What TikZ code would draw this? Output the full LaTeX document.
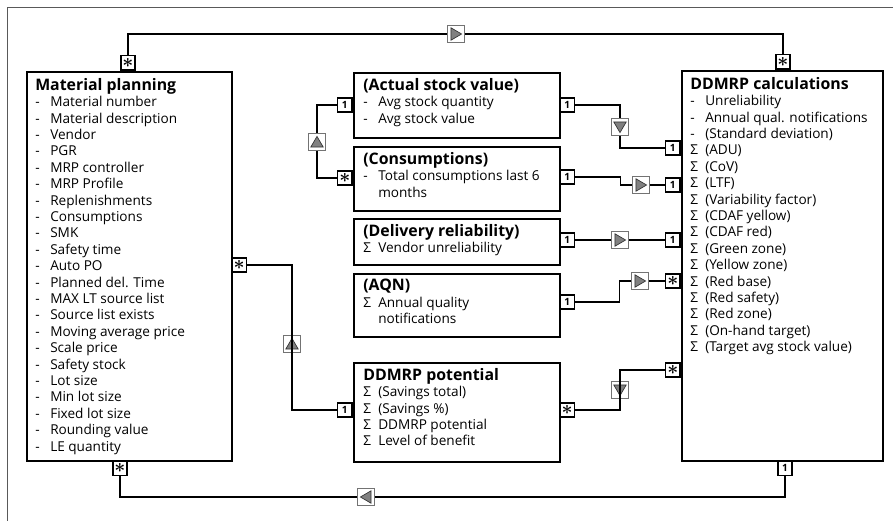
\documentclass[tikz,border=0pt]{standalone}
\usepackage{fontspec}
\setmainfont{Open Sans}
\usetikzlibrary{positioning}

% marker column in the attribute lists
\newcommand{\bl}[1]{\makebox[11.25pt][l]{#1}}
\newcommand{\many}{{\fontsize{15}{15}\selectfont\boldmath$\ast$}}
\newcommand{\ttl}[1]{{\bfseries\fontsize{11.9}{12.3}\selectfont #1}}

\tikzset{
  entity/.style={draw, line width=1.8pt, inner sep=0pt, anchor=north west},
  body/.style={anchor=north west, inner sep=0pt, align=left,
    font=\fontsize{10.2}{12.3}\selectfont},
  mult/.style={draw, line width=1.3pt, fill=white, minimum size=11pt,
    inner sep=0pt, font=\fontsize{7.5}{7.5}\selectfont\bfseries},
  tri/.style={draw=black!55, line width=0.8pt, fill=white, minimum size=12.5pt,
    inner sep=0pt, path picture={
      \filldraw[fill=black!50, draw=black!80, line width=0.5pt,
        shift={(path picture bounding box.center)}]
        (#1:4.2pt) -- (#1+129:6pt) -- (#1-129:6pt) -- cycle;}},
  link/.style={line width=1.2pt},
}

\begin{document}
\begin{tikzpicture}[x=0.75pt, y=-0.75pt]
  \useasboundingbox (0,0) rectangle (893,521);
  \draw[black!65, line width=0.7pt] (7,521) -- (7,7) -- (893,7);

  % Define nodes
  \node[entity, minimum width=153.75pt, minimum height=291.75pt] (mp) at (26,71) {};
  \node[entity, minimum width=150.75pt, minimum height=292.5pt] (calc) at (681,70) {};
  %--
  \node[entity, minimum width=154.5pt, minimum height=48.75pt] (stock) at (353,72) {};
  \node[entity, minimum width=154.5pt, minimum height=48pt] (cons) at (353,146) {};
  \node[entity, minimum width=154.5pt, minimum height=34.5pt] (deliv) at (353,218) {};
  \node[entity, minimum width=154.5pt, minimum height=47.25pt] (aqn) at (353,273) {};
  \node[entity, minimum width=154.5pt, minimum height=74.25pt] (pot) at (353,362) {};

  % Texts
  \node[body] (mpText) at ([shift={(9,7)}]mp.north west) {%
    \ttl{Material planning}\\
    \bl{-}Material number\\
    \bl{-}Material description\\
    \bl{-}Vendor\\
    \bl{-}PGR\\
    \bl{-}MRP controller\\
    \bl{-}MRP Profile\\
    \bl{-}Replenishments\\
    \bl{-}Consumptions\\
    \bl{-}SMK\\
    \bl{-}Safety time\\
    \bl{-}Auto PO\\
    \bl{-}Planned del. Time\\
    \bl{-}MAX LT source list\\
    \bl{-}Source list exists\\
    \bl{-}Moving average price\\
    \bl{-}Scale price\\
    \bl{-}Safety stock\\
    \bl{-}Lot size\\
    \bl{-}Min lot size\\
    \bl{-}Fixed lot size\\
    \bl{-}Rounding value\\
    \bl{-}LE quantity};
  \node[body] (calcText) at ([shift={(9,7)}]calc.north west) {%
    \ttl{DDMRP calculations}\\
    \bl{-}Unreliability\\
    \bl{-}Annual qual. notifications\\
    \bl{-}(Standard deviation)\\
    \bl{Σ}(ADU)\\
    \bl{Σ}(CoV)\\
    \bl{Σ}(LTF)\\
    \bl{Σ}(Variability factor)\\
    \bl{Σ}(CDAF yellow)\\
    \bl{Σ}(CDAF red)\\
    \bl{Σ}(Green zone)\\
    \bl{Σ}(Yellow zone)\\
    \bl{Σ}(Red base)\\
    \bl{Σ}(Red safety)\\
    \bl{Σ}(Red zone)\\
    \bl{Σ}(On-hand target)\\
    \bl{Σ}(Target avg stock value)};
  \node[body] (stockText) at ([shift={(10,6)}]stock.north west) {%
    \ttl{(Actual stock value)}\\
    \bl{-}Avg stock quantity\\
    \bl{-}Avg stock value};
  \node[body] (consText) at ([shift={(10,6)}]cons.north west) {%
    \ttl{(Consumptions)}\\
    \bl{-}Total consumptions last 6\\
    \bl{}months};
  \node[body] (delivText) at ([shift={(10,6)}]deliv.north west) {%
    \ttl{(Delivery reliability)}\\
    \bl{Σ}Vendor unreliability};
  \node[body] (aqnText) at ([shift={(10,6)}]aqn.north west) {%
    \ttl{(AQN)}\\
    \bl{Σ}Annual quality\\
    \bl{}notifications};
  \node[body] (potText) at ([shift={(10,6)}]pot.north west) {%
    \ttl{DDMRP potential}\\
    \bl{Σ}(Savings total)\\
    \bl{Σ}(Savings \%)\\
    \bl{Σ}DDMRP potential\\
    \bl{Σ}Level of benefit};

  % Multiplicities
  \node[mult, anchor=south] (mpTop) at (128,71) {\many};
  \node[mult, anchor=north] (mpBot) at (120,460) {\many};
  \node[mult, anchor=west] (mpRight) at (231,265) {\many};
  \node[mult, anchor=south] (calcTop) at (783,70) {\many};
  \node[mult, anchor=north] (calcBot) at (785,460) {1};
  \node[mult, anchor=east] (calcA) at (681,148) {1};
  \node[mult, anchor=east] (calcB) at (681,185) {1};
  \node[mult, anchor=east] (calcC) at (681,240) {1};
  \node[mult, anchor=east] (calcD) at (681,281) {\many};
  \node[mult, anchor=east] (calcE) at (681,370) {\many};
  \node[mult, anchor=east] (stockLeft) at (353,105) {1};
  \node[mult, anchor=west] (stockRight) at (559,105) {1};
  \node[mult, anchor=east] (consLeft) at (353,178) {\many};
  \node[mult, anchor=west] (consRight) at (559,177) {1};
  \node[mult, anchor=west] (delivRight) at (559,240) {1};
  \node[mult, anchor=west] (aqnRight) at (559,302) {1};
  \node[mult, anchor=east] (potLeft) at (353,410) {1};
  \node[mult, anchor=west] (potRight) at (559,410) {\many};

  % Reading directions
  \node[tri=0] (topTri) at (456,34) {};
  \node[tri=180] (botTri) at (366,497) {};
  \node[tri=90] (mpTri) at (292,344) {};
  \node[tri=90] (stockTri) at (317,142) {};
  \node[tri=-90] (aTri) at (620,127) {};
  \node[tri=0] (bTri) at (641,185) {};
  \node[tri=0] (cTri) at (620,240) {};
  \node[tri=0] (dTri) at (640,281) {};
  \node[tri=-90] (eTri) at (620,390) {};

  % Connect the nodes
  \draw[link] (mpTop.north) |- (topTri.west);
  \draw[link] (topTri.east) -| (calcTop.north);
  \draw[link] (mpBot.south) |- (botTri.west);
  \draw[link] (botTri.east) -| (calcBot.south);
  \draw[link] (mpRight.east) -| (mpTri.south);
  \draw[link] (mpTri.north) |- (potLeft.west);
  \draw[link] (stockLeft.west) -| (stockTri.north);
  \draw[link] (stockTri.south) |- (consLeft.west);
  \draw[link] (stockRight.east) -| (aTri.north);
  \draw[link] (aTri.south) |- (calcA.west);
  \draw[link] (consRight.east) -- ++(45,0) |- (bTri.west);
  \draw[link] (bTri.east) -- (calcB.west);
  \draw[link] (delivRight.east) -- (cTri.west);
  \draw[link] (cTri.east) -- (calcC.west);
  \draw[link] (aqnRight.east) -- ++(44,0) |- (dTri.west);
  \draw[link] (dTri.east) -- (calcD.west);
  \draw[link] (potRight.east) -| (eTri.north);
  \draw[link] (eTri.south) |- (calcE.west);
\end{tikzpicture}
\end{document}
